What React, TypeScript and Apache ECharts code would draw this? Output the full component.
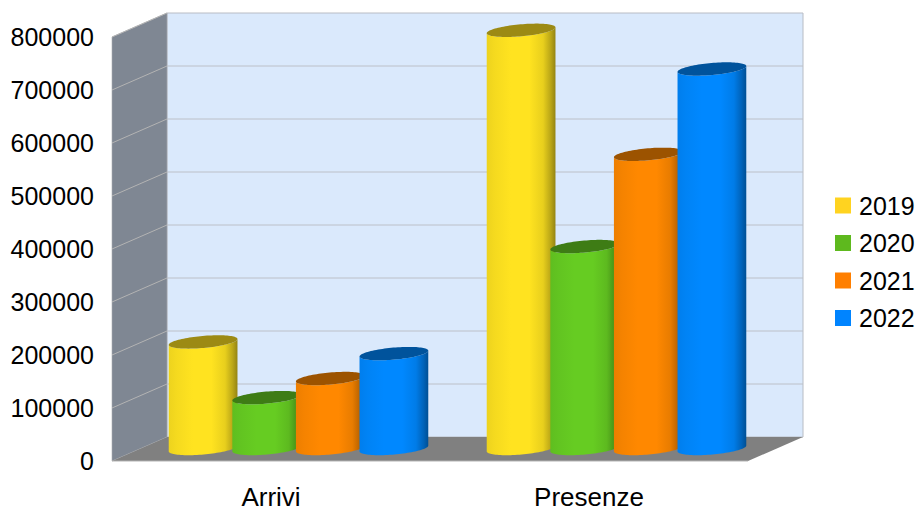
import React, { useEffect, useRef } from "react";
import * as echarts from "echarts";

const categories = ["Arrivi", "Presenze"];
const years = ["2019", "2020", "2021", "2022"];
const values2019 = [202000, 790000];
const values2020 = [97000, 382000];
const values2021 = [133000, 556000];
const values2022 = [180000, 717000];
const tickValues = [100000, 200000, 300000, 400000, 500000, 600000, 700000, 800000];

const seriesValues = [values2019, values2020, values2021, values2022];
const bodyRgb = [
  [255, 227, 32],
  [102, 204, 34],
  [255, 136, 0],
  [0, 136, 255],
];
const legendColors = ["#ffd320", "#5eb91e", "#ff7f00", "#0084ff"];

const DEPTH_X = 55;
const DEPTH_Y = 24;
const FONT = "'Liberation Sans', Arial, sans-serif";

const shade = (rgb: number[], f: number) =>
  `rgb(${rgb.map((c) => Math.round(c * f)).join(",")})`;

function renderWalls(params: any, api: any) {
  const { x, y, width, height } = params.coordSys;
  const bottom = y + height;
  const yv = api.coord([0, api.value(1)])[1];
  const children: any[] = [];
  if (params.dataIndex === 0) {
    children.push(
      {
        type: "polygon",
        shape: { points: [[x + DEPTH_X, y - DEPTH_Y], [x + width + DEPTH_X, y - DEPTH_Y], [x + width + DEPTH_X, bottom - DEPTH_Y], [x + DEPTH_X, bottom - DEPTH_Y]] },
        style: { fill: "#dae9fc", stroke: "#b8bcc4", lineWidth: 1 },
      },
      {
        type: "polygon",
        shape: { points: [[x, y], [x + DEPTH_X, y - DEPTH_Y], [x + DEPTH_X, bottom - DEPTH_Y], [x, bottom]] },
        style: { fill: "#7f8793", stroke: "#a8abb0", lineWidth: 0.6 },
      },
      {
        type: "polygon",
        shape: { points: [[x, bottom], [x + DEPTH_X, bottom - DEPTH_Y], [x + width + DEPTH_X, bottom - DEPTH_Y], [x + width, bottom]] },
        style: { fill: "#808080" },
      },
      {
        type: "line",
        shape: { x1: x, y1: bottom, x2: x + width, y2: bottom },
        style: { stroke: "#b3b3b3", lineWidth: 1 },
      }
    );
  }
  if (api.value(1) < 800000) {
    children.push({
      type: "line",
      shape: { x1: x + DEPTH_X, y1: yv - DEPTH_Y, x2: x + width + DEPTH_X, y2: yv - DEPTH_Y },
      style: { stroke: "#bcc0c8", lineWidth: 1 },
    });
  }
  children.push({
    type: "line",
    shape: { x1: x, y1: yv, x2: x + DEPTH_X, y2: yv - DEPTH_Y },
    style: { stroke: "#b3b3b3", lineWidth: 1 },
  });
  return { type: "group", children };
}

function cylinderRenderer(seriesIndex: number) {
  return (_params: any, api: any) => {
    const cat = api.value(0);
    const top = api.coord([cat, api.value(1)]);
    const base = api.coord([cat, 0]);
    const band = api.size([1, 0])[0];
    const cx = top[0] + DEPTH_X / 2 + (seriesIndex - 1.5) * band * 0.2;
    const topY = top[1] - DEPTH_Y / 2;
    const baseY = base[1] - DEPTH_Y / 2 - 0.5;
    const rx = band * 0.1085;
    const ry = 6;
    const rot = (-5 * Math.PI) / 180;
    const pt = (cy: number, t: number) => {
      const ex = rx * Math.cos(t);
      const ey = ry * Math.sin(t);
      return [cx + ex * Math.cos(rot) - ey * Math.sin(rot), cy + ex * Math.sin(rot) + ey * Math.cos(rot)];
    };
    const N = 48;
    const front = (cy: number) => {
      const out: number[][] = [];
      for (let k = 0; k <= N; k++) out.push(pt(cy, Math.PI - (k / N) * Math.PI));
      return out;
    };
    const capPts: number[][] = [];
    for (let k = 0; k < 2 * N; k++) capPts.push(pt(topY, (k / N) * Math.PI));
    const bodyPts = [...front(baseY), ...front(topY).reverse()];
    const rgb = bodyRgb[seriesIndex];
    return {
      type: "group",
      children: [
        {
          type: "polygon",
          shape: { points: bodyPts },
          style: {
            fill: new echarts.graphic.LinearGradient(0, 0, 1, 0, [
              { offset: 0, color: shade(rgb, 0.93) },
              { offset: 0.12, color: shade(rgb, 0.96) },
              { offset: 0.35, color: shade(rgb, 1) },
              { offset: 0.62, color: shade(rgb, 1) },
              { offset: 0.82, color: shade(rgb, 0.91) },
              { offset: 0.93, color: shade(rgb, 0.73) },
              { offset: 1, color: shade(rgb, 0.58) },
            ]),
          },
        },
        {
          type: "polygon",
          shape: { points: capPts },
          style: { fill: shade(rgb, 0.61) },
        },
      ],
    };
  };
}

export default function App() {
  const ref = useRef<HTMLDivElement>(null);
  useEffect(() => {
    document.body.style.margin = "0";
    const chart = echarts.init(ref.current!, null, { renderer: "svg" });
    chart.setOption({
      animation: false,
      backgroundColor: "#ffffff",
      grid: { left: 112, right: 169, top: 37, bottom: 45, containLabel: false, outerBoundsMode: "none" },
      xAxis: {
        type: "category",
        data: categories,
        axisLine: { show: false },
        axisTick: { show: false },
        splitLine: { show: false },
        axisLabel: { color: "#000", fontFamily: FONT, fontSize: 26, margin: 23 },
      },
      yAxis: {
        type: "value",
        min: 0,
        max: 800000,
        interval: 100000,
        axisLine: { show: false },
        axisTick: { show: false },
        splitLine: { show: false },
        axisLabel: { color: "#000", fontFamily: FONT, fontSize: 25, margin: 18, padding: [2, 0, 0, 0], formatter: (v: number) => String(v) },
      },
      legend: {
        orient: "vertical",
        left: 835,
        top: 193,
        itemWidth: 16,
        itemHeight: 16,
        itemGap: 12.5,
        icon: "rect",
        padding: 0,
        data: years.map((name, i) => ({ name, itemStyle: { color: legendColors[i] } })),
        textStyle: { color: "#000", fontFamily: FONT, fontSize: 25, padding: [0, 0, 0, 3] },
      },
      series: [
        {
          type: "custom",
          name: "walls",
          coordinateSystem: "cartesian2d",
          renderItem: renderWalls,
          data: tickValues.map((v) => [0, v]),
          silent: true,
          z: 1,
        },
        ...years.map((name, i) => ({
          type: "custom",
          name,
          coordinateSystem: "cartesian2d",
          renderItem: cylinderRenderer(i),
          data: seriesValues[i].map((v, c) => [c, v]),
          encode: { x: 0, y: 1 },
          itemStyle: { color: legendColors[i] },
          silent: true,
          z: 2 + i,
        })),
      ],
    });
    return () => chart.dispose();
  }, []);
  return <div ref={ref} style={{ width: 917, height: 506 }} />;
}
